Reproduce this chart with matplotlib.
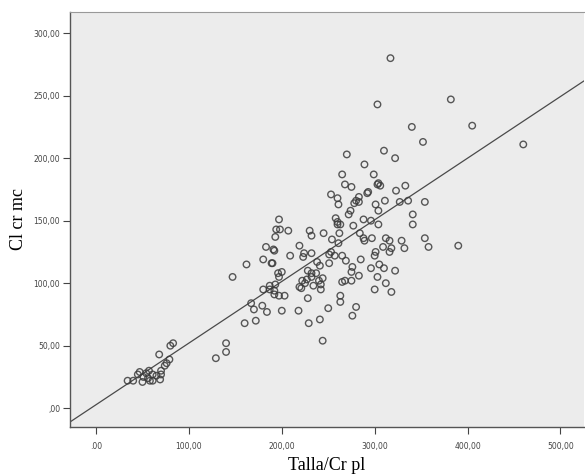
import matplotlib
matplotlib.use("Agg")
import matplotlib.pyplot as plt

# Talla/Cr pl (x) y Cl cr mc (y)
talla_cr = [34, 40, 45, 47, 50, 51, 54, 56, 57, 58, 61, 61, 65, 69, 70, 70, 74, 76, 79, 68, 80, 83,
            129, 140, 140,
            147, 160, 172, 162, 167, 170, 179, 184, 180, 183, 190, 191, 180, 187, 193, 192, 197, 203,
            197, 196, 200, 194, 197, 198, 207, 193, 189, 192, 187, 192, 200,
            209, 219, 223, 219, 221, 222, 218, 224, 232, 230, 232, 245, 228, 232, 237, 232, 227, 225,
            234, 240, 242, 242, 244, 228, 229, 241, 244, 250, 238, 241, 251,
            253, 251, 257, 265, 269, 285, 276, 275, 283, 268, 275, 265, 263, 263, 280, 276, 260, 262,
            277, 284, 265, 268, 275, 253, 260, 261, 283, 280, 278, 283, 274, 272, 292, 258, 260, 263,
            288, 270, 289, 296, 289, 297, 254, 261, 288,
            317, 303, 340, 352, 310, 322, 299, 303, 304, 306, 293, 323, 333, 311, 301, 327, 336, 354,
            304, 341, 341, 304, 312, 316, 329, 354, 358, 309, 318, 332, 301, 316,
            300, 305, 310, 303, 312, 318, 300, 322, 296,
            382, 405, 460, 390]
cl_cr = [22, 22, 27, 29, 21, 25, 28, 24, 30, 22, 27, 22, 26, 23, 27, 30, 34, 36, 39, 43, 50, 52,
         40, 45, 52,
         105, 68, 70, 115, 84, 79, 82, 77, 119, 129, 116, 127, 95, 95, 99, 91, 90, 90,
         105, 108, 109, 143, 151, 143, 142, 137, 116, 126, 98, 94, 78,
         122, 130, 121, 97, 96, 102, 78, 124, 124, 142, 138, 140, 110, 108, 108, 105, 103, 100,
         98, 102, 99, 95, 104, 88, 68, 71, 54, 80, 117, 114, 116,
         125, 123, 122, 122, 118, 119, 113, 109, 106, 102, 102, 101, 90, 85, 81, 74, 147, 140,
         146, 140, 187, 179, 177, 171, 168, 163, 169, 166, 164, 165, 158, 155, 172, 152, 149, 147,
         151, 203, 195, 150, 134, 136, 135, 132, 136,
         280, 243, 225, 213, 206, 200, 187, 179, 180, 178, 173, 174, 178, 166, 163, 165, 166, 165,
         158, 155, 147, 147, 136, 134, 134, 136, 129, 129, 128, 128, 125, 125,
         122, 115, 112, 105, 100, 93, 95, 110, 112,
         247, 226, 211, 130]

# recta de ajuste
intercepto = 2.8
pendiente = 0.493

x_ticks = [0, 100, 200, 300, 400, 500]
x_labels = [".00", "100,00", "200,00", "300,00", "400,00", "500,00"]
y_ticks = [0, 50, 100, 150, 200, 250, 300]
y_labels = [",00", "50,00", "100,00", "150,00", "200,00", "250,00", "300,00"]

fig = plt.figure(figsize=(5.85, 4.76), dpi=100)
ax = fig.add_axes([0.1197, 0.103, 0.878, 0.872])
ax.set_facecolor("#ececec")

xmin, xmax = -28, 525
ax.plot([xmin, xmax], [intercepto + pendiente * xmin, intercepto + pendiente * xmax],
        color="#4a4a4a", lw=0.9, zorder=2)
ax.scatter(talla_cr, cl_cr, s=22, facecolors="none", edgecolors="#3c3c3c",
           linewidths=1.0, alpha=0.85, zorder=3)

ax.set_xlim(xmin, xmax)
ax.set_ylim(-15, 317)
ax.set_xticks(x_ticks)
ax.set_xticklabels(x_labels)
ax.set_yticks(y_ticks)
ax.set_yticklabels(y_labels)
ax.tick_params(axis="both", labelsize=5.5, colors="#444444", length=5, width=0.8, pad=2)
ax.tick_params(axis="x", pad=6)

for side in ["left", "bottom"]:
    ax.spines[side].set_color("#555555")
    ax.spines[side].set_linewidth(1.0)
ax.spines["top"].set_color("#999999")
ax.spines["right"].set_visible(False)

ax.set_xlabel("Talla/Cr pl", family=["Liberation Serif", "DejaVu Serif"], fontsize=13, labelpad=4)
ax.set_ylabel("Cl cr mc", family=["Liberation Serif", "DejaVu Serif"], fontsize=13, labelpad=5)

fig.savefig("out.png", dpi=100)
